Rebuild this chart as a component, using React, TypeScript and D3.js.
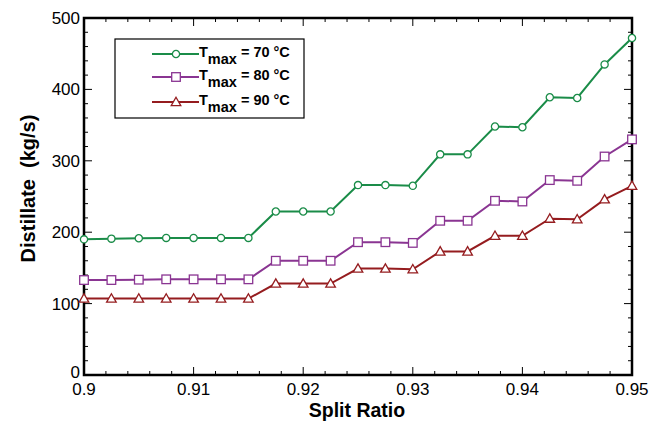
import React, { useEffect, useRef } from 'react';
import * as d3 from 'd3';

const splitRatio = [
  0.9, 0.9025, 0.905, 0.9075, 0.91, 0.9125, 0.915, 0.9175, 0.92, 0.9225, 0.925,
  0.9275, 0.93, 0.9325, 0.935, 0.9375, 0.94, 0.9425, 0.945, 0.9475, 0.95
];
const t70 = [190, 191, 191.5, 192, 192, 192, 192, 229, 229, 229, 266, 266, 265, 309, 309, 348, 347, 389, 388, 435, 472];
const t80 = [133, 133, 133.5, 134, 134, 134, 134, 160, 160, 160, 186, 186, 185, 216, 216, 244, 243, 273, 272, 306, 330];
const t90 = [107, 107, 107, 107, 107, 107, 107, 128, 128, 128, 149, 149, 148, 173, 173, 195, 195, 219, 218, 246, 265];
const xTicks = [0.9, 0.91, 0.92, 0.93, 0.94, 0.95];
const yTicks = [0, 100, 200, 300, 400, 500];
const legendLabels = ['70', '80', '90'];

const series = [
  { values: t70, color: '#1a8c48', marker: 'circle' },
  { values: t80, color: '#8a3592', marker: 'square' },
  { values: t90, color: '#951c1f', marker: 'triangle' }
];

const font = 'Arial, "Liberation Sans", sans-serif';

function drawMarker(g, type, color) {
  if (type === 'circle') {
    g.append('circle').attr('r', 3.6).attr('fill', '#fff').attr('stroke', color).attr('stroke-width', 1.3);
  } else if (type === 'square') {
    g.append('rect').attr('x', -4.3).attr('y', -4.3).attr('width', 8.6).attr('height', 8.6)
      .attr('fill', '#fff').attr('stroke', color).attr('stroke-width', 1.3);
  } else {
    g.append('path').attr('d', 'M0,-4.8L4.8,3.6L-4.8,3.6Z')
      .attr('fill', '#fff').attr('stroke', color).attr('stroke-width', 1.3);
  }
}

export default function App() {
  const ref = useRef(null);

  useEffect(() => {
    const svg = d3.select(ref.current);
    svg.selectAll('*').remove();

    const left = 84, right = 632, top = 18, bottom = 375;
    const x = d3.scaleLinear().domain([0.9, 0.95]).range([left, right]);
    const y = d3.scaleLinear().domain([0, 500]).range([bottom, top]);

    const frame = svg.append('g');

    // minor/major ticks, inward on all sides
    const xMinor = d3.range(0, 26).map(i => 0.9 + i * 0.002);
    const yMinor = d3.range(0, 26).map(i => i * 20);
    xMinor.forEach(v => {
      const major = xTicks.some(t => Math.abs(t - v) < 1e-6);
      const len = major ? 8 : 4;
      frame.append('line').attr('x1', x(v)).attr('x2', x(v)).attr('y1', bottom).attr('y2', bottom - len)
        .attr('stroke', '#000').attr('stroke-width', 1);
      frame.append('line').attr('x1', x(v)).attr('x2', x(v)).attr('y1', top).attr('y2', top + len)
        .attr('stroke', '#000').attr('stroke-width', 1);
    });
    yMinor.forEach(v => {
      const major = v % 100 === 0;
      const len = major ? 8 : 4;
      frame.append('line').attr('x1', left).attr('x2', left + len).attr('y1', y(v)).attr('y2', y(v))
        .attr('stroke', '#000').attr('stroke-width', 1);
      frame.append('line').attr('x1', right).attr('x2', right - len).attr('y1', y(v)).attr('y2', y(v))
        .attr('stroke', '#000').attr('stroke-width', 1);
    });

    frame.append('rect').attr('x', left).attr('y', top).attr('width', right - left).attr('height', bottom - top)
      .attr('fill', 'none').attr('stroke', '#000').attr('stroke-width', 2.5);

    svg.append('g').selectAll('text').data(xTicks).enter().append('text')
      .attr('x', d => x(d)).attr('y', bottom + 20).attr('text-anchor', 'middle')
      .attr('font-family', font).attr('font-size', 17).text(d => String(d));

    svg.append('g').selectAll('text').data(yTicks).enter().append('text')
      .attr('x', left - 4).attr('y', d => y(d) + (d === 0 ? 3 : 6)).attr('text-anchor', 'end')
      .attr('font-family', font).attr('font-size', 17).text(d => String(d));

    svg.append('text').attr('x', (left + right) / 2 - 1).attr('y', 417).attr('text-anchor', 'middle')
      .attr('font-family', font).attr('font-weight', 'bold').attr('font-size', 19.5).text('Split Ratio');

    svg.append('text').attr('transform', `translate(35,${(top + bottom) / 2 - 8}) rotate(-90)`)
      .attr('text-anchor', 'middle').attr('font-family', font).attr('font-weight', 'bold')
      .attr('font-size', 20).attr('xml:space', 'preserve').text('Distillate  (kg/s)');

    const line = d3.line().x((d, i) => x(splitRatio[i])).y(d => y(d));

    series.forEach(s => {
      svg.append('path').datum(s.values).attr('d', line).attr('fill', 'none')
        .attr('stroke', s.color).attr('stroke-width', 2);
      s.values.forEach((v, i) => {
        const g = svg.append('g').attr('transform', `translate(${x(splitRatio[i])},${y(v)})`);
        drawMarker(g, s.marker, s.color);
      });
    });

    // legend
    const lg = svg.append('g');
    lg.append('rect').attr('x', 115).attr('y', 39).attr('width', 189).attr('height', 79)
      .attr('fill', '#fff').attr('stroke', '#000').attr('stroke-width', 1.2);
    const rows = [54, 77, 102];
    series.forEach((s, i) => {
      const ly = rows[i];
      lg.append('line').attr('x1', 152).attr('x2', 199).attr('y1', ly).attr('y2', ly)
        .attr('stroke', s.color).attr('stroke-width', 2);
      drawMarker(lg.append('g').attr('transform', `translate(176,${ly})`), s.marker, s.color);
      const t = lg.append('text').attr('x', 199).attr('y', ly + 3).attr('font-family', font)
        .attr('font-weight', 'bold').attr('font-size', 14.5);
      t.append('tspan').text('T');
      t.append('tspan').attr('dy', 7).text('max');
      t.append('tspan').attr('dy', -7).text(` = ${legendLabels[i]} °C`);
    });
  }, []);

  return (
    <svg ref={ref} width={662} height={423} style={{ position: 'absolute', left: 0, top: 0, background: '#fff' }} />
  );
}
